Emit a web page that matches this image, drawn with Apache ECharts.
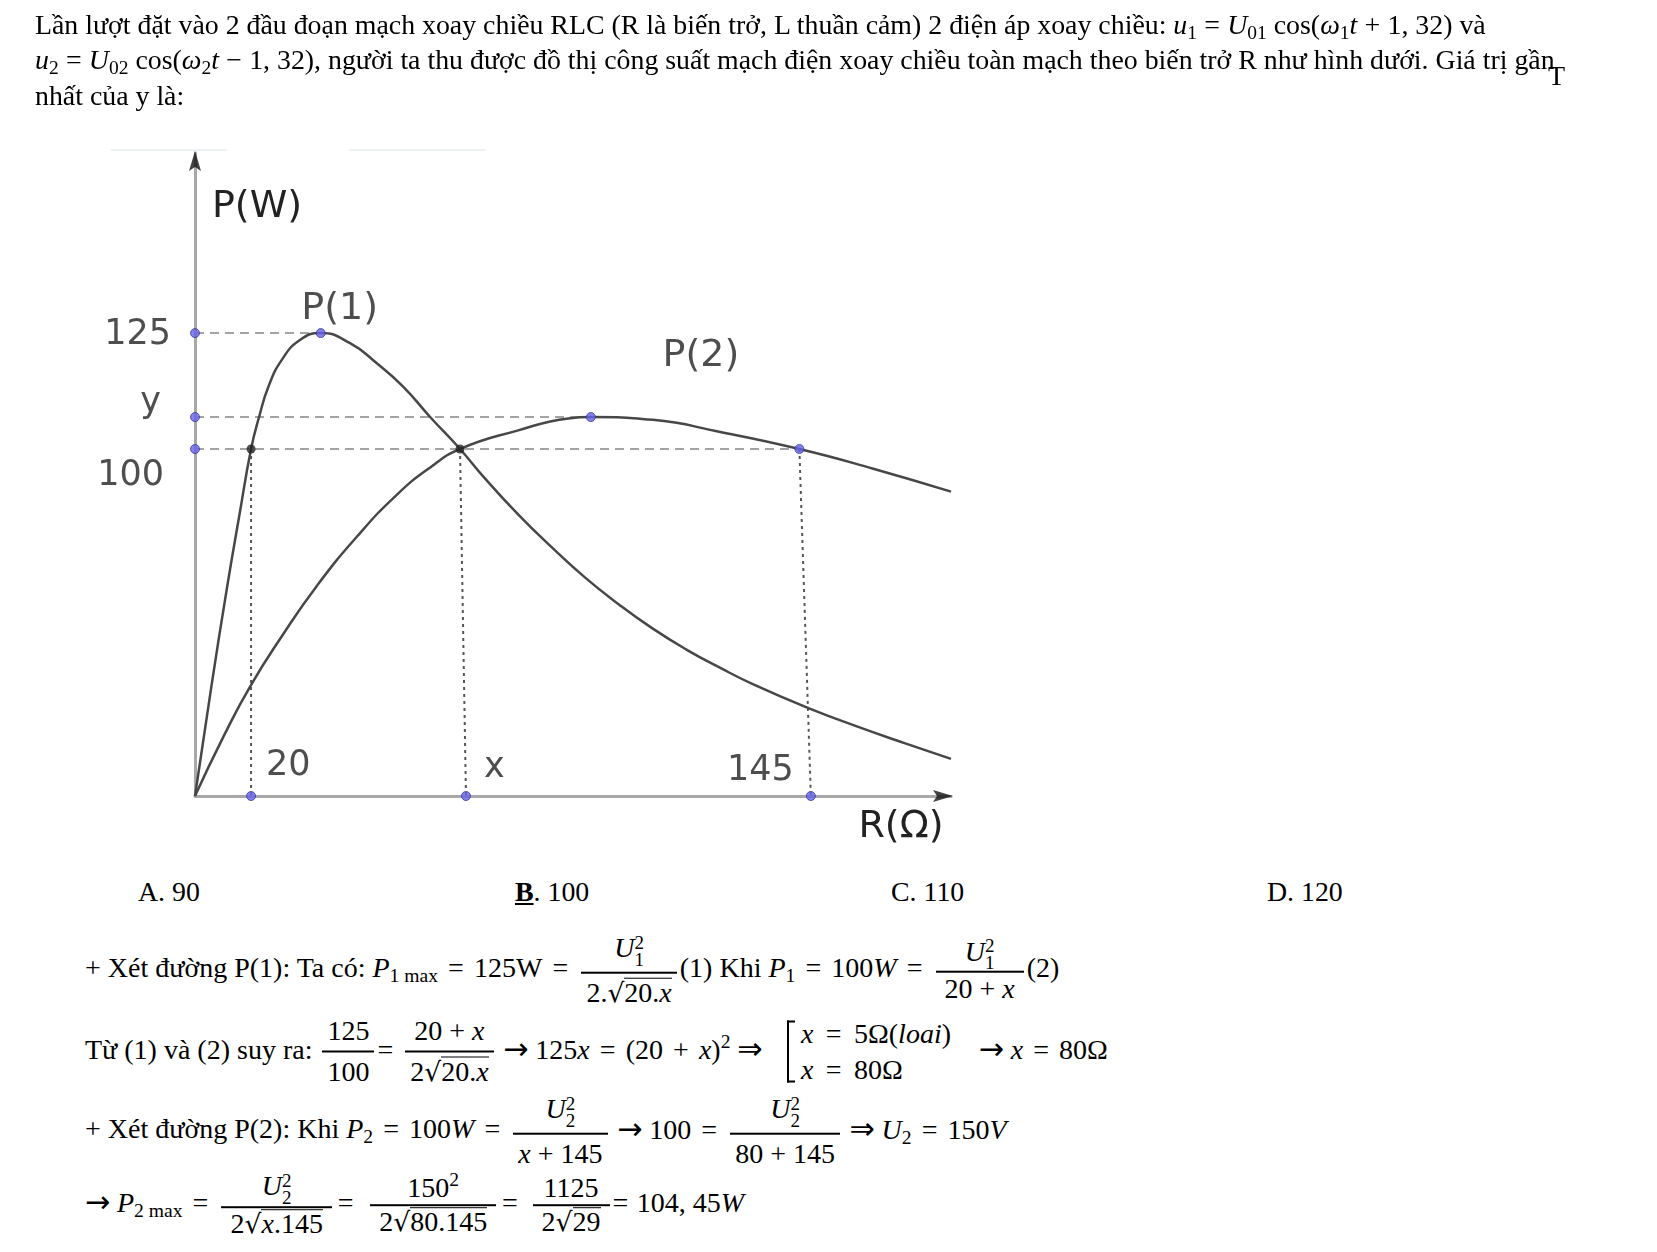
<!DOCTYPE html>
<html>
<head>
<meta charset="utf-8">
<script src="https://cdn.jsdelivr.net/npm/echarts@6/dist/echarts.min.js"></script>
<style>
  html, body { margin:0; padding:0; background:#fff; }
  #page { position:relative; width:1657px; height:1252px; overflow:hidden; background:#fff; }
  #chart { position:absolute; left:0; top:0; width:1000px; height:860px; }
  .t { position:absolute; font-family:'Liberation Serif','Times New Roman',serif; font-size:27.85px; line-height:32px; color:#000; white-space:nowrap; }
  i { font-style:italic; }
  sub { font-size:0.7em; vertical-align:-0.25em; line-height:0; }
  sup { font-size:0.7em; vertical-align:0.55em; line-height:0; }
  .r { margin:0 0.26em; }
  .row { position:absolute; left:85px; display:flex; align-items:center; transform:translateY(-50%);
         font-family:'Liberation Serif','Times New Roman',serif; font-size:28px; color:#000; white-space:pre; }
  .row .r { margin:0 0.36em; }
  .row .col .r { margin:0 0.44em; }
  .row .tx { line-height:32px; position:relative; top:-2px; }
  .ar { font-family:'DejaVu Sans'; font-size:1.08em; margin:0 0.22em; }
  .fr { display:inline-flex; flex-direction:column; align-items:stretch; margin:0 3px; }
  .fr .n, .fr .d { text-align:center; line-height:32px; padding:0 5px; white-space:pre; }
  .fr .n { border-bottom:2px solid #000; padding-bottom:4px; }
  .fr .d { padding-top:3px; }
  .w .n, .w .d { padding:0 9px; }
  .ss { display:inline-block; vertical-align:middle; font-size:19px; line-height:17px; text-align:left; font-style:normal; }
  .rt { font-family:'DejaVu Sans'; font-size:0.95em; }
  .ov { display:inline-block; border-top:1.6px solid #000; line-height:28px; padding-top:0; }
  .brk { display:inline-block; width:8px; height:62px; border:2px solid #000; border-right:none; margin:0 6px 0 18px; box-sizing:border-box; }
  .col { display:inline-flex; flex-direction:column; }
  .col span { line-height:36px; }
</style>
</head>
<body>
<div id="page">
  <div id="chart"></div>

  <div class="t" style="left:35px; top:9px;">Lần lượt đặt vào 2 đầu đoạn mạch xoay chiều RLC (R là biến trở, L thuần cảm) 2 điện áp xoay chiều: <i>u</i><sub>1</sub><span class="r">=</span><i>U</i><sub>01</sub> cos(<i>ω</i><sub>1</sub><i>t</i><span class="r">+</span>1, 32) và</div>
  <div class="t" style="left:35px; top:44px;"><i>u</i><sub>2</sub><span class="r">=</span><i>U</i><sub>02</sub> cos(<i>ω</i><sub>2</sub><i>t</i><span class="r">−</span>1, 32), người ta thu được đồ thị công suất mạch điện xoay chiều toàn mạch theo biến trở R như hình dưới. Giá trị gần</div>
  <div class="t" style="left:1548px; top:60px; font-size:28px;">T</div>
  <div class="t" style="left:35px; top:80px;">nhất của y là:</div>

  <div class="t" style="left:138px; top:876px;">A. 90</div>
  <div class="t" style="left:515px; top:876px;"><b><u>B</u></b>. 100</div>
  <div class="t" style="left:891px; top:876px;">C. 110</div>
  <div class="t" style="left:1267px; top:876px;">D. 120</div>

  <div class="row" style="top:970px;"><span class="tx">+ Xét đường P(1): Ta có: <i>P</i><sub>1 max</sub><span class="r">=</span>125W<span class="r">=</span></span><span class="fr"><span class="n"><i>U</i><span class="ss">2<br>1</span></span><span class="d">2.<span class="rt">√</span><span class="ov">20.<i>x</i></span></span></span><span class="tx">(1) Khi <i>P</i><sub>1</sub><span class="r">=</span>100<i>W</i><span class="r">=</span></span><span class="fr w"><span class="n"><i>U</i><span class="ss">2<br>1</span></span><span class="d">20 + <i>x</i></span></span><span class="tx">(2)</span></div>

  <div class="row" style="top:1051px;"><span class="tx">Từ (1) và (2) suy ra: </span><span class="fr"><span class="n">125</span><span class="d">100</span></span><span class="tx">=</span><span class="fr" style="margin-left:12px"><span class="n">20 + <i>x</i></span><span class="d">2<span class="rt">√</span><span class="ov">20.<i>x</i></span></span></span><span class="tx"><span class="ar">→</span>125<i>x</i><span class="r">=</span>(20<span class="r">+</span><i>x</i>)<sup>2</sup><span class="ar">⇒</span></span><span class="brk"></span><span class="col"><span><i>x</i><span class="r">=</span>5Ω(<i>loai</i>)</span><span><i>x</i><span class="r">=</span>80Ω</span></span><span class="tx">   <span class="ar">→</span><i>x</i><span class="r">=</span>80Ω</span></div>

  <div class="row" style="top:1131px;"><span class="tx">+ Xét đường P(2): Khi <i>P</i><sub>2</sub><span class="r">=</span>100<i>W</i><span class="r">=</span></span><span class="fr"><span class="n"><i>U</i><span class="ss">2<br>2</span></span><span class="d"><i>x</i> + 145</span></span><span class="tx"><span class="ar">→</span>100<span class="r">=</span></span><span class="fr"><span class="n"><i>U</i><span class="ss">2<br>2</span></span><span class="d">80 + 145</span></span><span class="tx"><span class="ar">⇒</span><i>U</i><sub>2</sub><span class="r">=</span>150<i>V</i></span></div>

  <div class="row" style="top:1205px;"><span class="tx"><span class="ar" style="margin-left:0">→</span><i>P</i><sub>2 max</sub><span class="r">=</span></span><span class="fr w"><span class="n"><i>U</i><span class="ss">2<br>2</span></span><span class="d">2<span class="rt">√</span><span class="ov"><i>x</i>.145</span></span></span><span class="tx"><span class="r" style="margin:0 0.1em">=</span></span><span class="fr w" style="margin-left:14px"><span class="n">150<sup>2</sup></span><span class="d">2<span class="rt">√</span><span class="ov">80.145</span></span></span><span class="tx"><span class="r" style="margin:0 0.1em">=</span></span><span class="fr w" style="margin-left:12px"><span class="n">1125</span><span class="d">2<span class="rt">√</span><span class="ov">29</span></span></span><span class="tx"><span class="r" style="margin:0 0.3em 0 0">=</span>104, 45<i>W</i></span></div>
</div>

<script>
// ---- data (schematic units) ----
const rTickPos  = [13.2, 63.8, 145];
const rTickText = ['20', 'x', '145'];
const pTickPos  = [133.4, 109.2, 100];
const pTickText = ['125', 'y', '100'];

const p1R = [0, 3.7, 7.6, 10.6, 13.2, 15.1, 17.3, 20.4, 24.7, 29.6, 36.5, 42.8, 49.0, 55.3, 62.4, 68.0, 75.9, 83.9, 91.8, 99.8, 107.7, 115.7, 123.7, 131.6, 144.3, 155.5, 167.4, 178.0];
const p1P = [0, 30.3, 60.5, 82.0, 100, 109.3, 118.0, 125.6, 131.4, 133.4, 130.5, 124.7, 118.0, 109.3, 100, 91.9, 81.4, 71.8, 63.0, 55.2, 48.3, 42.2, 36.9, 32.1, 25.4, 20.2, 15.1, 10.7];

const p2R = [0, 6.7, 12.9, 20.8, 28.6, 38.1, 47.5, 55.3, 62.4, 75.9, 87.9, 93.2, 107.8, 123.7, 142.3, 159.5, 178.0];
const p2P = [0, 17.1, 31.4, 46.7, 60.4, 74.7, 86.8, 94.6, 100, 105.3, 108.8, 109.2, 108.4, 104.9, 100, 94.4, 87.7];

const p1Peak  = [29.6, 133.4];
const p2Peak  = [93.2, 109.2];
const p1At100 = [13.2, 100];
const cross   = [62.4, 100];
const p2At145 = [142.3, 100];

const rMax = 178, pMax = 185.3;
const axisNames = ['R(Ω)', 'P(W)'];
const curveNames = ['P(1)', 'P(2)'];

// ---- styles ----
const FONT = 'DejaVu Sans';
const labelColor = '#222';
const yLabelStyle = [
  {position:'left', distance:19, offset:[0, 2]},
  {position:'left', distance:29, offset:[0, -14]},
  {position:'left', distance:26, offset:[0, 27]}
];
const xLabelStyle = [
  {position:'right', distance:10, offset:[0, -30]},
  {position:'right', distance:13, offset:[0, -28]},
  {position:'left',  distance:12, offset:[0, -25]}
];

const zip = (a, b) => a.map((v, i) => [v, b[i]]);
const seg = (a, b) => [a.slice(), b.slice()];

const dashStyle = {type:[9, 6], color:'#a4a4a4', width:2};
const dotStyle  = {type:[3, 4], color:'#555', width:2};

function guide(data, style) {
  return {type:'line', data:data, symbol:'none', lineStyle:style, silent:true, clip:false, z:2, animation:false};
}

const blueDot = {color:'#6464e6', borderColor:'#3a3aa0', borderWidth:1};

const tickItems = [];
pTickPos.forEach((v, i) => tickItems.push({
  value:[0, v],
  label:Object.assign({show:true, formatter:pTickText[i]}, yLabelStyle[i])
}));
rTickPos.forEach((v, i) => tickItems.push({
  value:[v, 0],
  label:Object.assign({show:true, formatter:rTickText[i]}, xLabelStyle[i])
}));

const chart = echarts.init(document.getElementById('chart'), null, {renderer:'canvas'});
chart.setOption({
  animation:false,
  backgroundColor:'transparent',
  grid:{left:195, top:153, width:756, height:643, containLabel:false},
  xAxis:{
    type:'value', min:0, max:rMax,
    axisLine:{show:true, onZero:false, lineStyle:{color:'#a8a8a8', width:3}},
    axisTick:{show:false}, axisLabel:{show:false}, splitLine:{show:false}
  },
  yAxis:{
    type:'value', min:0, max:pMax,
    axisLine:{show:true, onZero:false, lineStyle:{color:'#a8a8a8', width:3}},
    axisTick:{show:false}, axisLabel:{show:false}, splitLine:{show:false}
  },
  graphic:[
    {type:'line', shape:{x1:111, y1:150, x2:227, y2:150}, style:{stroke:'#e4eef0', lineWidth:1.5}, silent:true},
    {type:'line', shape:{x1:349, y1:150, x2:486, y2:150}, style:{stroke:'#e4eef0', lineWidth:1.5}, silent:true}
  ],
  series:[
    guide(seg([0, p1Peak[1]], p1Peak), dashStyle),
    guide(seg([0, p2Peak[1]], p2Peak), dashStyle),
    guide(seg([0, p2At145[1]], p2At145), dashStyle),
    guide(seg(p1At100, [rTickPos[0], 0]), dotStyle),
    guide(seg(cross, [rTickPos[1], 0]), dotStyle),
    guide(seg(p2At145, [rTickPos[2], 0]), dotStyle),
    {
      name:curveNames[0], type:'line', data:zip(p1R, p1P), smooth:0.5, symbol:'none', clip:false, z:3,
      lineStyle:{color:'#474747', width:2.5}
    },
    {
      name:curveNames[1], type:'line', data:zip(p2R, p2P), smooth:0.5, symbol:'none', clip:false, z:3,
      lineStyle:{color:'#474747', width:2.5}
    },
    {
      type:'scatter', z:5, clip:false, symbolSize:9, itemStyle:blueDot,
      label:{fontFamily:FONT, fontSize:35, color:labelColor},
      data:tickItems
    },
    {
      type:'scatter', z:5, clip:false, symbolSize:9, itemStyle:blueDot,
      label:{show:true, position:'inside', fontFamily:FONT, fontSize:38, color:labelColor},
      data:[
        {value:p1Peak, label:{formatter:curveNames[0], offset:[19, -24]}},
        {value:p2Peak, label:{formatter:curveNames[1], offset:[110, -61]}},
        {value:p2At145, label:{show:false}}
      ]
    },
    {
      type:'scatter', z:5, clip:false, symbolSize:9,
      itemStyle:{color:'#222'},
      data:[p1At100, cross]
    },
    {
      type:'scatter', z:6, clip:false, silent:true,
      symbol:'path://M0,0 L20,6 L0,12 L4,6 Z',
      itemStyle:{color:'#111'},
      data:[
        {value:[rMax, 0], symbolSize:[20, 12], symbolOffset:[-8, 0]},
        {value:[0, pMax], symbolSize:[20, 12], symbolRotate:90, symbolOffset:[0, 8]}
      ]
    },
    {
      type:'scatter', z:6, clip:false, silent:true, symbolSize:1,
      itemStyle:{color:'rgba(0,0,0,0)'},
      label:{show:true, position:'inside', fontFamily:FONT, fontSize:38, color:labelColor, opacity:1},
      data:[
        {value:[rMax, 0], label:{formatter:axisNames[0], offset:[-50, 31]}},
        {value:[0, pMax], label:{formatter:axisNames[1], offset:[62, 54]}}
      ]
    }
  ]
});
</script>
</body>
</html>
